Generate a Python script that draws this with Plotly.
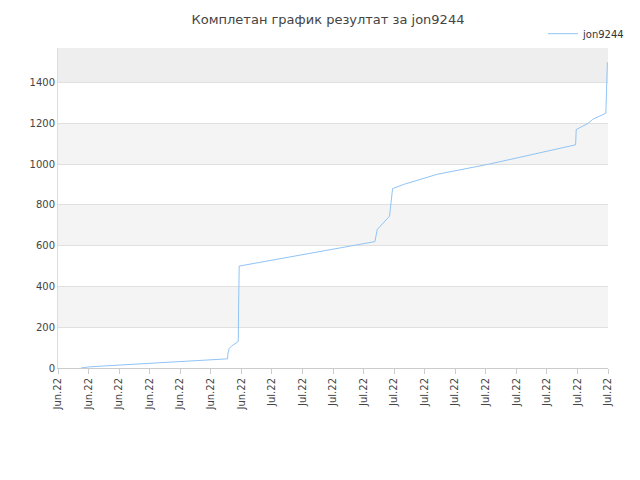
import plotly.graph_objects as go

tick_labels = ["Jun.22"] * 7 + ["Jul.22"] * 12
x_vals = [0.75, 1.0, 1.5, 2.0, 2.5, 3.0, 3.5, 4.0, 4.5, 5.0, 5.55, 5.56, 5.6, 5.7, 5.9, 5.91, 5.93,
          10.37, 10.45, 10.85, 10.9, 10.95, 11.3, 12.4, 14.1, 16.94, 16.96, 17.35, 17.5, 17.93, 17.95, 17.97, 17.98]
y_vals = [0, 5, 10, 14, 19, 24, 28, 32, 36, 40, 45, 70, 95, 110, 130, 290, 500,
          620, 680, 745, 800, 880, 900, 950, 1000, 1095, 1170, 1200, 1220, 1250, 1350, 1450, 1500]

fig = go.Figure()
for a, b in [(200, 400), (600, 800), (1000, 1200)]:
    fig.add_hrect(y0=a, y1=b, fillcolor="#f4f4f4", line_width=0, layer="below")
fig.add_hrect(y0=1400, y1=1570, fillcolor="#eeeeee", line_width=0, layer="below")

fig.add_trace(go.Scatter(x=x_vals, y=y_vals, mode="lines", name="jon9244",
                         line=dict(color="#90c4f5", width=1)))
fig.update_layout(
    width=640, height=480, paper_bgcolor="white", plot_bgcolor="white",
    margin=dict(l=50, r=40, t=40, b=120, autoexpand=False),
    title=dict(text="Комплетан график резултат за jon9244", x=0.5, y=0.985, yanchor="top", xanchor="center",
               font=dict(family="DejaVu Sans", size=13, color="#444")),
    font=dict(family="DejaVu Sans", size=10, color="#444"),
    legend=dict(x=1.04, y=1.09, xanchor="right", yanchor="top", bgcolor="rgba(0,0,0,0)",
                font=dict(size=10, color="#333")),
    showlegend=True,
)
fig.update_xaxes(range=[0, 18], tickvals=list(range(19)), ticktext=tick_labels, tickangle=-90,
                 showgrid=False, showline=True, linecolor="#ccc", ticks="outside", ticklen=5, tickcolor="#ccc",
                 zeroline=False, automargin=False, tickfont=dict(size=10, color="#444"))
fig.update_yaxes(range=[0, 1570], tickvals=[0, 200, 400, 600, 800, 1000, 1200, 1400],
                 showgrid=True, gridcolor="#e0e0e0", zeroline=False, automargin=False,
                 tickfont=dict(size=10, color="#444"), showline=True, linecolor="#ddd")
fig.write_html("out.html")
